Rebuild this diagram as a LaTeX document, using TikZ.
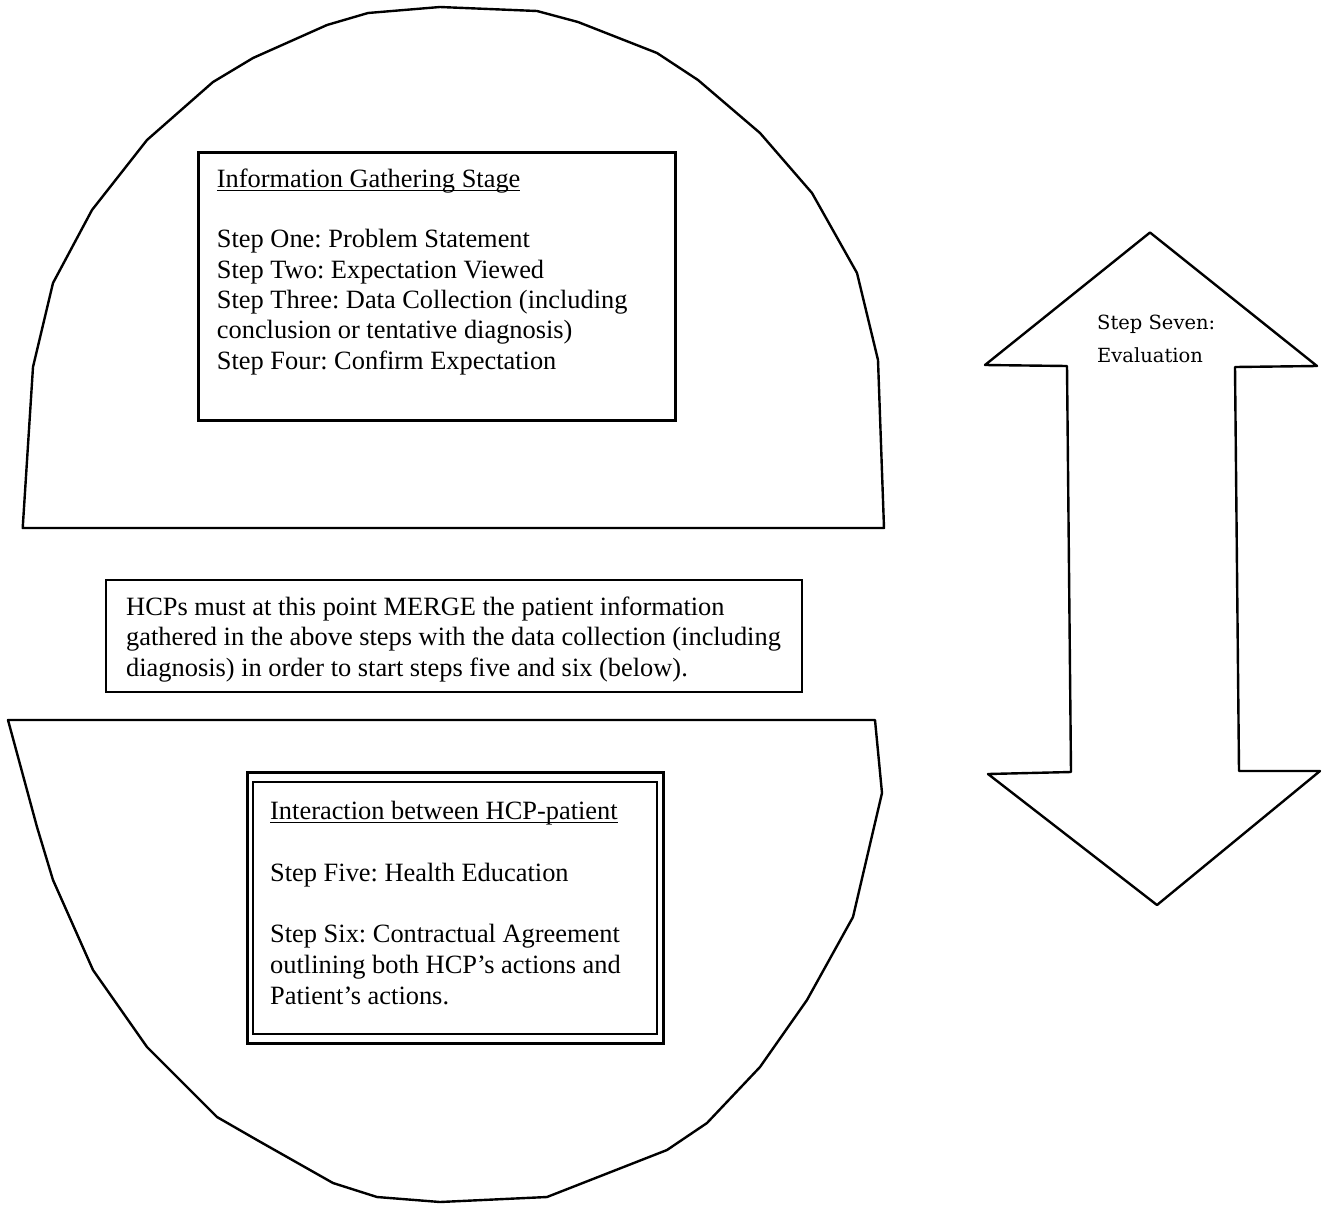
\documentclass[tikz,border=0pt]{standalone}
\usepackage{fontspec}
\setmainfont{Liberation Serif}
\newfontfamily\sevenfont{DejaVu Serif}
\frenchspacing
\newcommand\myul[1]{\setbox0\hbox{#1}\rlap{\rule[-4pt]{\wd0}{1.5pt}}\box0}
\newcommand\topstrut{\spaceskip=0pt\xspaceskip=0pt\relax\rule{0pt}{22pt}}
\begin{document}
\begin{tikzpicture}[x=1pt,y=-1pt,
  outline/.style={draw=black, line width=2.4pt, line join=round},
  box/.style={draw=black, line width=3pt, inner sep=0pt, fill=none},
  txt/.style={anchor=north west, inner sep=0pt, text width=720pt},
]
\useasboundingbox (0,0) rectangle (1323,1205);
\fill[white] (0,0) rectangle (1323,1205);

% upper dome
\draw[outline] (22.7,528) -- (33,367) -- (53,283) -- (92,210) -- (147,140) -- (213,82)
  -- (253,58) -- (327,25) -- (368,13) -- (440,7) -- (537,11) -- (578,22) -- (657,53)
  -- (698,80) -- (760,133) -- (812,193) -- (857,273) -- (878,360) -- (884,528) -- cycle;

% lower bowl
\draw[outline] (8,720) -- (875,720) -- (882,793) -- (853,917) -- (807,1000) -- (760,1067)
  -- (707,1123) -- (667,1150) -- (547,1197) -- (440,1202) -- (377,1197) -- (333,1183)
  -- (257,1140) -- (217,1117) -- (147,1047) -- (93,970) -- (53,880) -- (37,827) -- cycle;

% double-headed arrow
\draw[outline] (1150,232.5) -- (1317,366) -- (1235,367) -- (1239,771) -- (1320,771)
  -- (1157,905) -- (988,774) -- (1071,772) -- (1067,366) -- (985,365) -- cycle;

% boxes
\node[box, minimum width=477pt, minimum height=268pt] (info) at (436.5,286) {};
\node[box, line width=2.4pt, minimum width=696pt, minimum height=112pt] (merge) at (454,636) {};
\node[box, line width=3pt, minimum width=416pt, minimum height=271pt] (interOuter) at (455,907.5) {};
\node[box, line width=1.6pt, minimum width=404pt, minimum height=252pt] (interInner) at (455,908) {};

% texts
\node[txt, font=\fontsize{26.4}{30.3}\selectfont] (infotxt) at (216.7,165) {\topstrut\myul{Information Gathering Stage}\\
\mbox{}\\
Step One: Problem Statement\\
Step Two: Expectation Viewed\\
Step Three: Data Collection (including\\
conclusion or tentative diagnosis)\\
Step Four: Confirm Expectation};

\node[txt, font=\fontsize{26.4}{30.4}\selectfont] (mergetxt) at (126,593) {\topstrut HCPs must at this point MERGE the patient information\\
gathered in the above steps with the data collection (including\\
diagnosis) in order to start steps five and six (below).};

\node[txt, font=\fontsize{26.4}{30.9}\selectfont] (intertxt) at (270,797) {\topstrut\myul{Interaction between HCP-patient}\\
\mbox{}\\
Step Five: Health Education\\
\mbox{}\\
Step Six: Contractual Agreement\\
outlining both HCP’s actions and\\
Patient’s actions.};

\node[txt, text width=200pt, font=\sevenfont\fontsize{19.5}{33}\selectfont] (seven) at (1097,307) {\topstrut Step Seven:\\
Evaluation};
\end{tikzpicture}
\end{document}
